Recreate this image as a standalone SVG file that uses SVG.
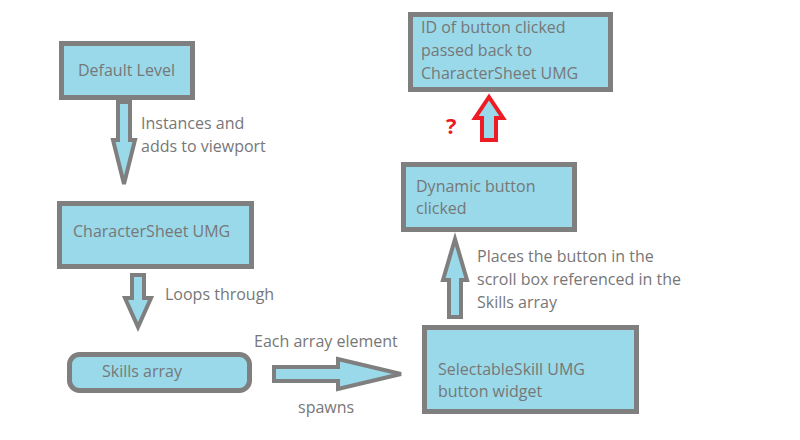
<svg xmlns="http://www.w3.org/2000/svg" width="800" height="440" viewBox="0 0 800 440">
<style>
.box{fill:#99d9ea;stroke:#7f7f7f;stroke-width:5}
.arr{fill:#99d9ea;stroke:#7f7f7f;stroke-width:4;stroke-linejoin:miter}
.red{fill:#99d9ea;stroke:#ed1c24;stroke-width:4;stroke-linejoin:miter}
text{font-family:"Open Sans","Liberation Sans",sans-serif;font-size:16px;fill:#777777}
</style>
<rect width="800" height="440" fill="#ffffff"/>
<g id="default-level">
<rect class="box" x="61.5" y="43.5" width="131" height="54"/>
<text x="78" y="76">Default Level</text>
</g>
<g id="charactersheet-umg">
<rect class="box" x="59.5" y="203.5" width="192" height="63"/>
<text x="73" y="237">CharacterSheet UMG</text>
</g>
<g id="skills-array">
<rect class="box" x="69.5" y="354.5" width="180" height="36" rx="10"/>
<text x="102" y="377">Skills array</text>
</g>
<g id="selectableskill">
<rect class="box" x="424.5" y="327.5" width="212" height="84"/>
<text x="438" y="375">SelectableSkill UMG</text>
<text x="438" y="397">button widget</text>
</g>
<g id="dynamic-button">
<rect class="box" x="403.5" y="164.5" width="171" height="65"/>
<text x="416" y="192">Dynamic button</text>
<text x="416" y="214">clicked</text>
</g>
<g id="id-passed-back">
<rect class="box" x="410.5" y="14.5" width="200" height="75"/>
<text x="421" y="33">ID of button clicked</text>
<text x="421" y="56">passed back to</text>
<text x="421" y="79">CharacterSheet UMG</text>
</g>
<g id="connectors">
<polygon class="arr" points="118,102 130,102 130,140 135,140 124,184 113,140 118,140"/>
<text x="141" y="129">Instances and</text>
<text x="141" y="152">adds to viewport</text>
<polygon class="arr" points="132,275 144,275 144,298 151,298 138,327 125,298 132,298"/>
<text x="165" y="300">Loops through</text>
<polygon class="arr" points="274,367 338,367 338,359 401,374 338,389 338,381 274,381"/>
<text x="254" y="347">Each array element</text>
<text x="298" y="413">spawns</text>
<polygon class="arr" points="449,317 461,317 461,280 467,280 455,239 443,280 449,280"/>
<text x="477" y="262">Places the button in the</text>
<text x="477" y="285">scroll box referenced in the</text>
<text x="477" y="308">Skills array</text>
<polygon class="red" points="482,140 496,140 496,118 503,118 489,97 475,118 482,118"/>
<text x="446" y="134" style="fill:#ed1c24;font-weight:bold;font-size:22px">?</text>
</g>
</svg>
